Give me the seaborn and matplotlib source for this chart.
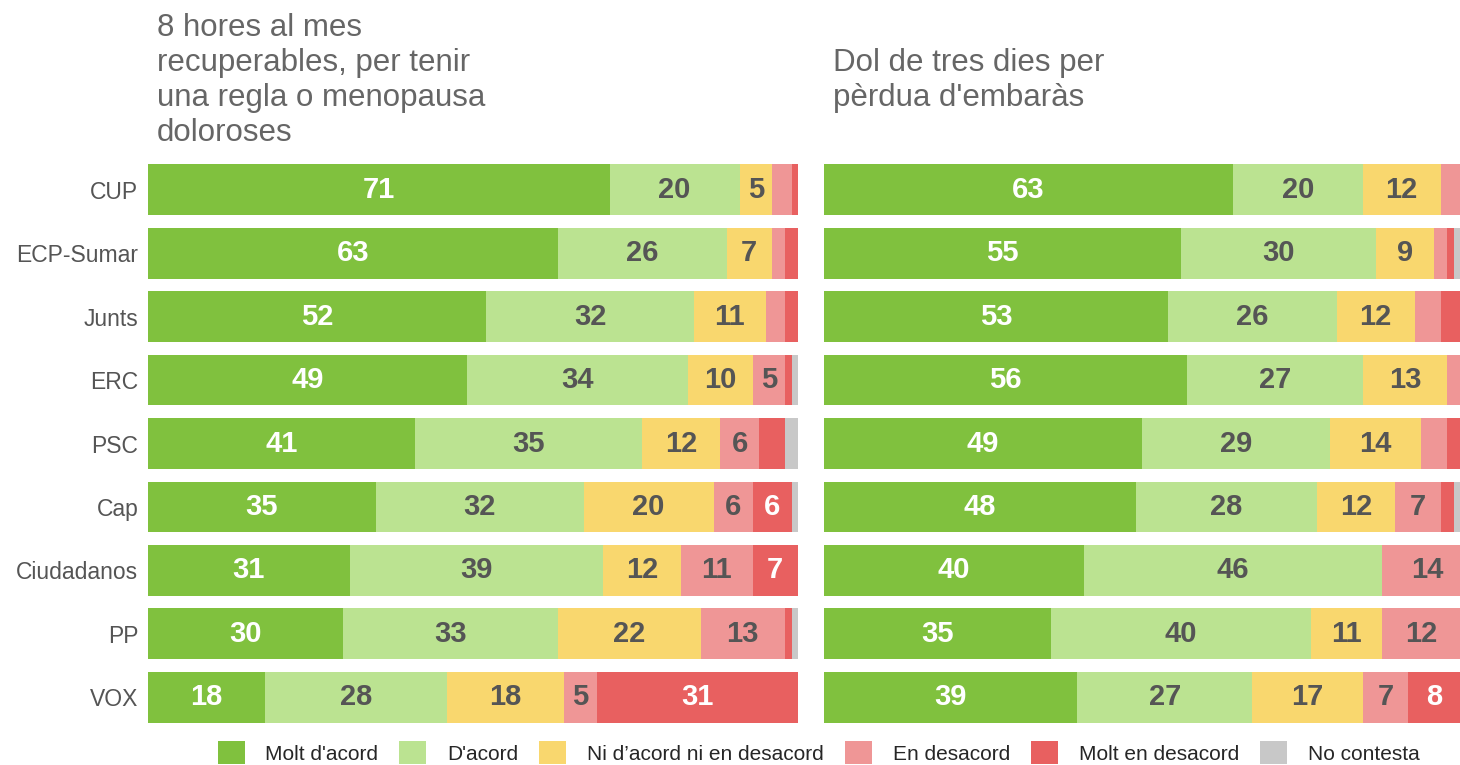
import pandas as pd
import numpy as np
import seaborn as sns
import matplotlib.pyplot as plt
from matplotlib.patches import Patch

parties = ['CUP', 'ECP-Sumar', 'Junts', 'ERC', 'PSC', 'Cap', 'Ciudadanos', 'PP', 'VOX']
categories = ["Molt d'acord", "D'acord", "Ni d’acord ni en desacord",
              "En desacord", "Molt en desacord", "No contesta"]
colors = ['#80c13e', '#bbe391', '#f9d76e', '#ef9696', '#e86060', '#c8c8c8']
text_colors = ['white', '#555555', '#555555', '#555555', 'white', '#555555']

# panel 1: 8 hores al mes recuperables
p1_molt_acord = [71, 63, 52, 49, 41, 35, 31, 30, 18]
p1_acord = [20, 26, 32, 34, 35, 32, 39, 33, 28]
p1_ni = [5, 7, 11, 10, 12, 20, 12, 22, 18]
p1_desacord = [3, 2, 3, 5, 6, 6, 11, 13, 5]
p1_molt_desacord = [1, 2, 2, 1, 4, 6, 7, 1, 31]
p1_nc = [0, 0, 0, 1, 2, 1, 0, 1, 0]

# panel 2: dol de tres dies
p2_molt_acord = [63, 55, 53, 56, 49, 48, 40, 35, 39]
p2_acord = [20, 30, 26, 27, 29, 28, 46, 40, 27]
p2_ni = [12, 9, 12, 13, 14, 12, 0, 11, 17]
p2_desacord = [3, 2, 4, 2, 4, 7, 14, 12, 7]
p2_molt_desacord = [0, 1, 3, 0, 2, 2, 0, 0, 8]
p2_nc = [0, 1, 0, 0, 0, 1, 0, 0, 0]

title1 = "8 hores al mes\nrecuperables, per tenir\nuna regla o menopausa\ndoloroses"
title2 = "Dol de tres dies per\npèrdua d'embaràs"

sns.set_theme(style='white')
plt.rcParams['font.family'] = ['Liberation Sans', 'DejaVu Sans']


def stacked(ax, series, xmax):
    df = pd.DataFrame(dict(zip(categories, series)), index=parties)
    cum = df.cumsum(axis=1)
    # draw longest cumulative bar first, then overlay the shorter ones
    for k in range(len(categories) - 1, -1, -1):
        d = pd.DataFrame({'party': parties, 'val': cum.iloc[:, k].values})
        sns.barplot(data=d, x='val', y='party', orient='h', color=colors[k],
                    width=0.8, linewidth=0, saturation=1, ax=ax)
    for i, p in enumerate(parties):
        for k, c in enumerate(categories):
            v = df.loc[p, c]
            if v >= 5:
                ax.text(cum.loc[p, c] - v / 2, i, str(v), ha='center', va='center',
                        fontsize=21, fontweight='bold', color=text_colors[k])
    ax.set_xlim(0, xmax)
    ax.set_ylim(8.5, -0.5)
    ax.set_xlabel('')
    ax.set_ylabel('')
    ax.set_xticks([])
    sns.despine(ax=ax, left=True, bottom=True)


fig = plt.figure(figsize=(14.6, 7.65), dpi=100)
ax1 = fig.add_axes([0.1014, 0.047, 0.4452, 0.7465])
ax2 = fig.add_axes([0.5644, 0.047, 0.4356, 0.7465])

stacked(ax1, [p1_molt_acord, p1_acord, p1_ni, p1_desacord, p1_molt_desacord, p1_nc], 100)
stacked(ax2, [p2_molt_acord, p2_acord, p2_ni, p2_desacord, p2_molt_desacord, p2_nc], 98)

ax1.tick_params(axis='y', length=0, pad=7, labelsize=16.5, labelcolor='#555555')
ax2.set_yticks([])

fig.text(0.1075, 0.8948, title1, ha='left', va='center', fontsize=22.5,
         color='#666666', linespacing=1.225)
fig.text(0.5705, 0.8948, title2, ha='left', va='center', fontsize=22.5,
         color='#666666', linespacing=1.225)

handles = [Patch(facecolor=c, edgecolor='none') for c in colors]
fig.legend(handles, categories, ncol=6, loc='center', bbox_to_anchor=(0.5606, 0.016),
           frameon=False, fontsize=15, handlelength=1.3, handleheight=1.3,
           handletextpad=1.0, columnspacing=1.0, borderaxespad=0)

plt.savefig('out.png', dpi=100)
